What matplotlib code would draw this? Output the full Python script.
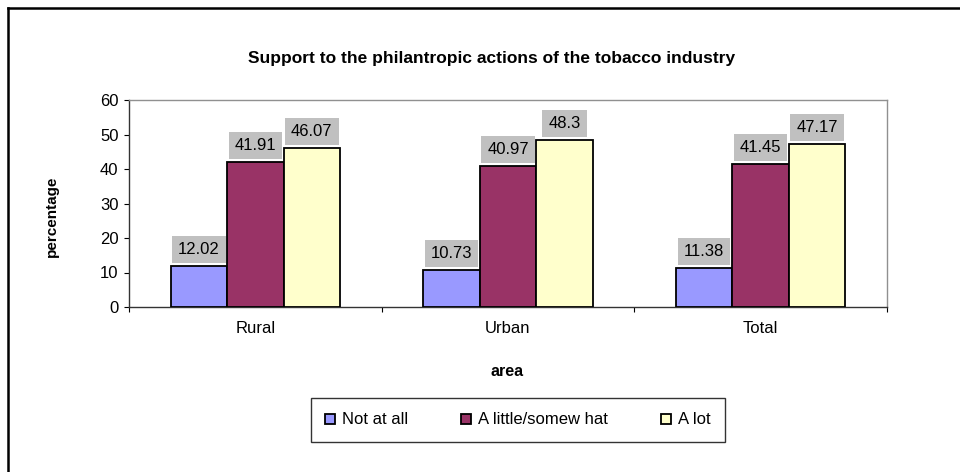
import numpy as np
import matplotlib
matplotlib.use('Agg')
import matplotlib.pyplot as plt
from matplotlib.lines import Line2D

plt.rcParams['font.family'] = ['Liberation Sans', 'DejaVu Sans']

areas = ['Rural', 'Urban', 'Total']
series = ['Not at all', 'A little/somew hat', 'A lot']
not_at_all = [12.02, 10.73, 11.38]
a_little = [41.91, 40.97, 41.45]
a_lot = [46.07, 48.3, 47.17]
colors = ['#9999FF', '#993366', '#FFFFCC']

W, H = 960, 472
fig = plt.figure(figsize=(W / 100, H / 100), dpi=100)
ax = fig.add_axes([129 / W, 1 - 307 / H, (887 - 129) / W, (307 - 100) / H])

x = np.arange(len(areas))
width = 0.2236
for k, (vals, name) in enumerate(zip([not_at_all, a_little, a_lot], series)):
    pos = x + (k - 1) * width
    bars = ax.bar(pos, vals, width, color=colors[k], edgecolor='black',
                  linewidth=1.3, label=name, zorder=3)
    for b, v in zip(bars, vals):
        ax.annotate('%g' % v, (b.get_x() + b.get_width() / 2, v),
                    xytext=(0, 6.5), textcoords='offset points',
                    ha='center', va='bottom', fontsize=12,
                    bbox=dict(boxstyle='square,pad=0.36', fc='#C0C0C0', ec='none'),
                    zorder=4)

ax.set_xlim(-0.5, 2.5)
ax.set_ylim(0, 60)
ax.set_yticks(range(0, 61, 10))
ax.set_xticks([-0.5, 0.5, 1.5, 2.5])
ax.set_xticklabels([])
ax.set_xticks(x, minor=True)
ax.set_xticklabels(areas, minor=True)
ax.tick_params(axis='x', which='major', direction='out', length=3.5, width=0.8)
ax.tick_params(axis='x', which='minor', length=0, pad=10, labelsize=12)
ax.tick_params(axis='y', direction='out', length=3.5, width=0.8, pad=4, labelsize=12)

for s in ['top', 'right']:
    ax.spines[s].set_color('#909090')
    ax.spines[s].set_linewidth(1.0)
ax.spines['left'].set_color('#333333')
ax.spines['bottom'].set_color('#333333')
ax.spines['left'].set_linewidth(1.0)
ax.spines['bottom'].set_linewidth(1.0)

fig.text(492 / W, 1 - 59 / H, 'Support to the philantropic actions of the tobacco industry',
         ha='center', va='center', fontsize=12.5, fontweight='bold')
fig.text(52 / W, 1 - 216 / H, 'percentage', ha='center', va='center',
         rotation=90, fontsize=11, fontweight='bold')
fig.text(507 / W, 1 - 371 / H, 'area', ha='center', va='center',
         fontsize=11.5, fontweight='bold')

leg = fig.legend(loc='center', bbox_to_anchor=(518 / W, 1 - 420 / H), ncol=3,
                 fontsize=12, frameon=True, fancybox=False, edgecolor='black',
                 handlelength=0.55, handleheight=0.55, handletextpad=0.45,
                 columnspacing=3.2, borderpad=0.85, borderaxespad=0)
leg.get_frame().set_linewidth(1.0)

# frame lines on the left and top edges of the figure
fig.add_artist(Line2D([8 / W, 8 / W], [0, 1 - 8 / H], transform=fig.transFigure,
                      color='black', linewidth=1.8))
fig.add_artist(Line2D([8 / W, 1], [1 - 8 / H, 1 - 8 / H], transform=fig.transFigure,
                      color='black', linewidth=1.8))

fig.savefig('out.png', dpi=100)
